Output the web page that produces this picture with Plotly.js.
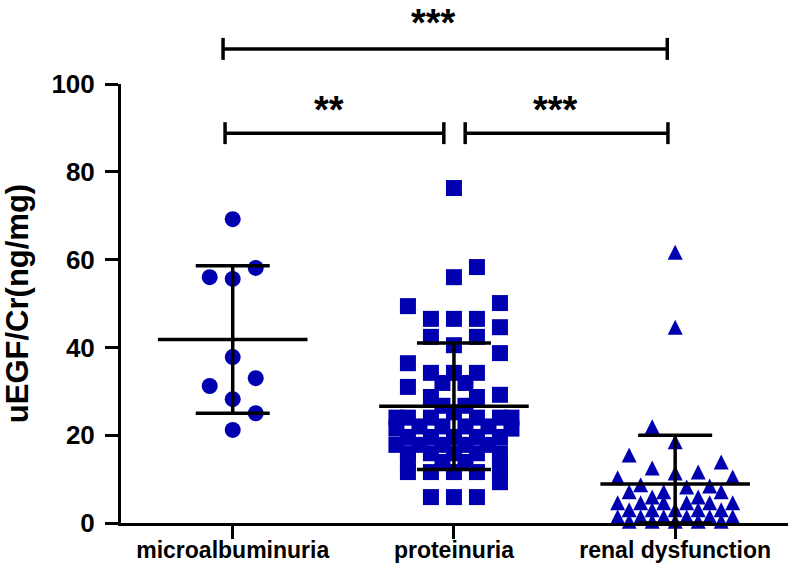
<!DOCTYPE html>
<html><head><meta charset="utf-8">
<script src="https://cdn.plot.ly/plotly-3.0.1.min.js"></script>
<style>html,body{margin:0;padding:0;background:#fff}#chart{width:788px;height:565px}</style>
</head><body><div id="chart"></div>
<script>
// ---- data ----
const categories = ['microalbuminuria', 'proteinuria', 'renal dysfunction'];

const microValues = [69.2, 58.1, 56.0, 55.6, 37.8, 33.0, 31.2, 28.2, 25.0, 21.2];
const microSlots  = [0, 1, -1, 0, 0, 1, -1, 0, 1, 0];

const protValues = [76.3, 58.3, 56.0, 50.1, 49.4, 46.5, 46.5, 46.5, 44.6, 42.4, 42.4, 40.5, 38.7, 36.4,
  34.2, 34.2, 34.2, 31.9, 31.9, 31.0, 29.2, 28.7, 28.7, 26.7, 26.7, 25.2,
  24.0, 24.0, 24.0, 24.0, 24.0, 24.0, 22.0, 22.0, 22.0, 22.0, 21.5, 21.5,
  19.6, 19.6, 19.6, 19.6, 19.6, 17.8, 17.8, 17.8, 17.8, 17.8, 15.9, 15.9, 15.9, 15.9, 15.9,
  13.9, 13.9, 13.9, 13.9, 11.6, 11.6, 11.6, 11.6, 11.6, 9.3, 5.9, 5.9, 5.9];
const protSlots = [0, 1, 0, 2, -2, -1, 0, 1, 2, -1, 1, 0, 2, -2,
  -1, 0, 1, -0.5, 0.5, -2, 2, -1, 1, -0.5, 0.5, 0,
  -2.5, -2, -1, 1, 2, 2.5, -1.5, -0.5, 0.5, 1.5, -2.5, 2.5,
  -2, -1, 0, 1, 2, -2.5, -1.5, -0.5, 0.5, 1.5, -2, -1, 0, 1, 2,
  -2, -0.5, 0.5, 2, -2, -1, 0, 1, 2, 2, -1, 0, 1];

const renalValues = [61.7, 44.6, 21.9, 18.5, 15.5, 13.9, 12.5, 11.6, 11.4, 10.3, 10.5, 8.7, 8.2, 8.4,
  7.1, 7.1, 7.1, 5.9, 5.9, 4.6, 4.6, 4.6, 4.6, 4.6, 4.6, 3.0, 3.0, 3.0, 3.0, 3.0,
  1.4, 1.4, 1.4, 1.4, 1.4, 1.4, 0.4, 0.4, 0.4, 0.4, 0.4];
const renalSlots = [0, 0, -1, 0, -2, 2, -1, 1, 0, -2.5, 2.5, -1.5, 0.5, 1.5,
  -2, -0.5, 2, -1, 1, -2.5, -1.5, -0.5, 0.5, 1.5, 2.5, -2, -1, 0, 1, 2,
  -2.5, -1.5, -0.5, 0.5, 1.5, 2.5, -2, -1, 0, 1, 2];

const groupMeans = [41.8, 26.6, 8.9];
const groupSD = [16.8, 14.4, 11.1];

const significance = ['***', '**', '***'];

// ---- styling ----
const SLOT = 0.104;          // horizontal jitter step (x units)
const BLUE = '#0000b0';
const FONT = 'Liberation Sans, Arial, sans-serif';

function xs(idx, slots) { return slots.map(s => idx + s * SLOT); }

const traces = [
  { type: 'scatter', mode: 'markers', x: xs(0, microSlots), y: microValues, cliponaxis: false,
    marker: { symbol: 'circle', size: 16, color: BLUE, line: { width: 0 } }, hoverinfo: 'y' },
  { type: 'scatter', mode: 'markers', x: xs(1, protSlots), y: protValues, cliponaxis: false,
    marker: { symbol: 'square', size: 16, color: BLUE, line: { width: 0 } }, hoverinfo: 'y' },
  { type: 'scatter', mode: 'markers', x: xs(2, renalSlots), y: renalValues, cliponaxis: false,
    marker: { symbol: 'arrow-down', angle: 180, standoff: 7.5, size: 15, color: BLUE, line: { width: 0 } }, hoverinfo: 'y' },
  { type: 'scatter', mode: 'markers', x: [0, 1, 2], y: groupMeans, cliponaxis: false,
    marker: { size: 1, color: 'rgba(0,0,0,0)' },
    error_y: { type: 'data', symmetric: false, array: groupSD,
      arrayminus: groupSD.map((s, i) => Math.min(s, groupMeans[i])),
      color: '#000', thickness: 3.5, width: 37 },
    error_x: { type: 'constant', value: 0.338, color: '#000', thickness: 3.5, width: 0 },
    hoverinfo: 'skip' }
];

// bracket geometry in paper coordinates
const brackets = [
  { x0: 0.153, x1: 0.819, y: 1.080 },
  { x0: 0.156, x1: 0.484, y: 0.888 },
  { x0: 0.516, x1: 0.820, y: 0.888 }
];
const starPos = [
  { x: 0.468, y: 1.190, anchor: 'top' },
  { x: 0.312, y: 0.940, anchor: 'middle' },
  { x: 0.652, y: 0.940, anchor: 'middle' }
];
const tickH = 0.025;
const shapes = [];
brackets.forEach(b => {
  const line = { type: 'line', xref: 'paper', yref: 'paper', line: { color: '#000', width: 3.5 } };
  shapes.push(Object.assign({}, line, { x0: b.x0, x1: b.x1, y0: b.y, y1: b.y }));
  shapes.push(Object.assign({}, line, { x0: b.x0, x1: b.x0, y0: b.y - tickH, y1: b.y + tickH }));
  shapes.push(Object.assign({}, line, { x0: b.x1, x1: b.x1, y0: b.y - tickH, y1: b.y + tickH }));
});
const annotations = significance.map((t, i) => ({
  text: t, xref: 'paper', yref: 'paper', x: starPos[i].x, y: starPos[i].y,
  xanchor: 'center', yanchor: starPos[i].anchor, showarrow: false, borderpad: 0,
  font: { family: FONT, size: 38, color: '#000', weight: 'bold' }
}));

const layout = {
  width: 788, height: 565,
  margin: { l: 121, r: 0, t: 84, b: 42 },
  paper_bgcolor: '#fff', plot_bgcolor: '#fff',
  showlegend: false,
  font: { family: FONT, color: '#000' },
  xaxis: {
    range: [-0.505, 2.51], tickvals: [0, 1, 2], ticktext: categories,
    showline: true, linecolor: '#000', linewidth: 3,
    ticks: 'outside', ticklen: 13, tickwidth: 3, tickcolor: '#000',
    ticklabelstandoff: -9,
    showgrid: false, zeroline: false,
    tickfont: { family: FONT, size: 23, weight: 'bold', color: '#000' }
  },
  yaxis: {
    range: [0, 100], tickvals: [0, 20, 40, 60, 80, 100],
    showline: true, linecolor: '#000', linewidth: 3,
    ticks: 'outside', ticklen: 13, tickwidth: 3, tickcolor: '#000',
    ticklabelstandoff: 5,
    showgrid: false, zeroline: false,
    tickfont: { family: FONT, size: 26, weight: 'bold', color: '#000' },
    title: { text: 'uEGF/Cr(ng/mg)', standoff: 16,
      font: { family: FONT, size: 31, weight: 'bold', color: '#000' } }
  },
  shapes: shapes,
  annotations: annotations
};

Plotly.newPlot('chart', traces, layout, { displayModeBar: false, staticPlot: true });
</script>
</body></html>
